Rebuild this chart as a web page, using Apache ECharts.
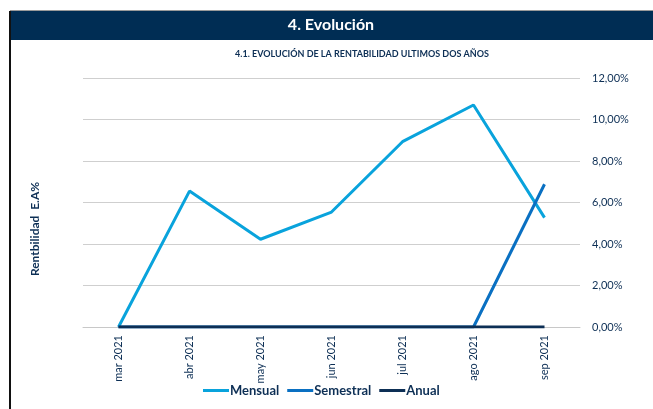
<!DOCTYPE html>
<html>
<head>
<meta charset="utf-8">
<script src="https://cdn.jsdelivr.net/npm/echarts@6/dist/echarts.min.js"></script>
<style>
  html, body { margin: 0; padding: 0; background: #fff; }
  #main { width: 653px; height: 409px; }
</style>
</head>
<body>
<div id="main"></div>
<script>
const months = ['mar 2021', 'abr 2021', 'may 2021', 'jun 2021', 'jul 2021', 'ago 2021', 'sep 2021'];
const mensual = [0, 6.55, 4.23, 5.54, 8.93, 10.70, 5.27];
const semestral = [0, 0, 0, 0, 0, 0, 6.88];
const anual = [0, 0, 0, 0, 0, 0, 0];

const navy = '#0d2f55';
const font = 'Lato';

const chart = echarts.init(document.getElementById('main'));

function pct(v) {
  return v.toFixed(2).replace('.', ',') + '%';
}

function lineSeries(name, data, color) {
  return {
    name: name,
    type: 'line',
    data: data,
    symbol: 'none',
    lineStyle: { color: color, width: 3 },
    itemStyle: { color: color }
  };
}

chart.setOption({
  animation: false,
  textStyle: { fontFamily: font },
  title: {
    text: '4.1. EVOLUCIÓN DE LA RENTABILIDAD ULTIMOS DOS AÑOS',
    left: 357,
    top: 45,
    textAlign: 'center',
    textStyle: { fontSize: 9, fontWeight: 'bold', color: navy, fontFamily: font }
  },
  graphic: [
    { type: 'rect', shape: { x: 10, y: 10, width: 643, height: 1 }, style: { fill: '#9a9a9a' } },
    { type: 'rect', shape: { x: 10, y: 11, width: 643, height: 29 }, style: { fill: '#002d54' } },
    { type: 'rect', shape: { x: 9, y: 11, width: 2, height: 398 }, style: { fill: '#111' } },
    {
      type: 'text', x: 331, y: 25,
      style: { text: '4. Evolución', fill: '#fff', font: 'bold 16px Lato', align: 'center', verticalAlign: 'middle' }
    },
    {
      type: 'text', x: 35, y: 229, rotation: Math.PI / 2,
      style: { text: 'Rentbilidad  E.A%', fill: navy, font: 'bold 12px Lato', align: 'center', verticalAlign: 'middle' }
    }
  ],
  legend: {
    bottom: 7,
    left: 198,
    icon: 'rect',
    itemWidth: 26,
    itemHeight: 3,
    itemGap: 8,
    textStyle: { color: navy, fontSize: 13, fontWeight: 'bold', fontFamily: font, padding: [0, 0, 0, -4] },
    data: ['Mensual', 'Semestral', 'Anual']
  },
  grid: { left: 83, right: 73, top: 78, bottom: 82 },
  xAxis: {
    type: 'category',
    data: months,
    boundaryGap: true,
    axisLine: { lineStyle: { color: '#c8c8c8', width: 1 } },
    axisTick: { show: false },
    axisLabel: { rotate: 90, color: navy, fontSize: 11, margin: 8, fontFamily: font }
  },
  yAxis: {
    type: 'value',
    position: 'right',
    min: 0,
    max: 12,
    interval: 2,
    axisLine: { show: false },
    axisTick: { show: false },
    splitLine: { lineStyle: { color: '#cfcfcf', width: 1 } },
    axisLabel: { color: navy, fontSize: 11, margin: 12, fontFamily: font, formatter: pct }
  },
  series: [
    lineSeries('Mensual', mensual, '#09a3dc'),
    lineSeries('Semestral', semestral, '#0a70c2'),
    lineSeries('Anual', anual, navy)
  ]
});
</script>
</body>
</html>
